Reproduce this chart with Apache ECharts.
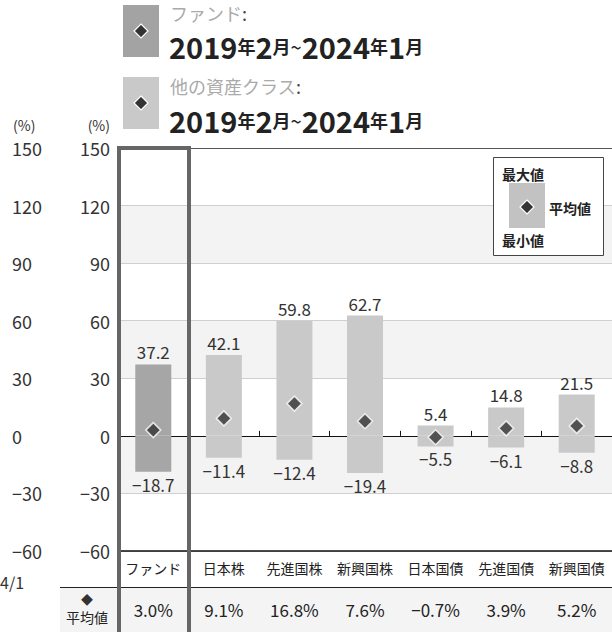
<!DOCTYPE html>
<html><head><meta charset="utf-8">
<script src="https://cdn.jsdelivr.net/npm/echarts@6/dist/echarts.min.js"></script>
<style>html,body{margin:0;padding:0;background:#fff}#c{width:612px;height:632px}</style>
</head><body><div id="c"></div>
<script>
const categories = ['ファンド','日本株','先進国株','新興国株','日本国債','先進国債','新興国債'];
const maxValues = [37.2, 42.1, 59.8, 62.7, 5.4, 14.8, 21.5];
const minValues = [-18.7, -11.4, -12.4, -19.4, -5.5, -6.1, -8.8];
const avgValues = [3.0, 9.1, 16.8, 7.6, -0.7, 3.9, 5.2];
const yMin = -60, yMax = 150, yStep = 30;
const FONT = '"Noto Sans CJK JP", "Noto Sans", sans-serif';
const fundColor = '#a6a6a6', otherColor = '#c9c9c9';

const minus = s => String(s).replace('-', '\u2212');
const avgLabels = avgValues.map(v => minus(v.toFixed(1)) + '%');

const chart = echarts.init(document.getElementById('c'), null, {renderer: 'svg'});
const barColor = (i) => i === 0 ? fundColor : otherColor;
const diamond = (cx, cy, r, z) => ({type: 'polygon', z: z || 1,
  shape: {points: [[cx, cy - r], [cx + r, cy], [cx, cy + r], [cx - r, cy]]},
  style: {fill: '#333', stroke: '#fff', lineWidth: 1.2}});

const dateRich = {
  d: {fontSize: 29, fontWeight: 'bold', fill: '#222', fontFamily: FONT, lineHeight: 26},
  s: {fontSize: 18, fontWeight: 'bold', fill: '#222', fontFamily: FONT, lineHeight: 26},
  t: {fontSize: 20, fill: '#222', fontFamily: FONT, lineHeight: 26}
};
const dateText = '{d|2019}{s|年}{d|2}{s|月}{t|~}{d|2024}{s|年}{d|1}{s|月}';
const titleRich = {
  g: {fontSize: 18, fill: '#aaa', fontFamily: FONT, lineHeight: 20},
  c: {fontSize: 18, fill: '#444', fontFamily: FONT, lineHeight: 20}
};

chart.setOption({
  animation: false,
  textStyle: {fontFamily: FONT},
  grid: {left: 118, right: 0, top: 148, bottom: 81},
  xAxis: [
    {type: 'category', data: categories, position: 'bottom',
     axisLine: {onZero: false, lineStyle: {color: '#111', width: 1.5}},
     axisTick: {show: false},
     axisLabel: {interval: 0, hideOverlap: false, fontSize: 14, color: '#222', margin: 10, fontFamily: FONT}},
    {type: 'category', data: categories, position: 'bottom',
     axisLine: {onZero: true, lineStyle: {color: '#111', width: 1}},
     axisTick: {show: true, inside: true, length: 5, lineStyle: {color: '#111'}},
     axisLabel: {show: false}},
    {type: 'category', data: categories, position: 'top',
     axisLine: {onZero: false, lineStyle: {color: '#555', width: 1}},
     axisTick: {show: false}, axisLabel: {show: false}},
    {type: 'category', data: avgLabels, position: 'bottom',
     axisLine: {show: false, onZero: false}, axisTick: {show: false},
     axisLabel: {interval: 0, hideOverlap: false, fontSize: 17, color: '#222', margin: 50, fontFamily: FONT}}
  ],
  yAxis: [
    {type: 'value', min: yMin, max: yMax, interval: yStep, position: 'left',
     axisLine: {show: false}, axisTick: {show: false},
     axisLabel: {fontSize: 18, color: '#333', margin: 8, formatter: v => minus(v)},
     splitLine: {show: true, lineStyle: {color: '#cfcfcf', width: 1}},
     splitArea: {show: true, areaStyle: {color: ['#ffffff', '#f3f3f3']}}},
    {type: 'value', min: yMin, max: yMax, interval: yStep, position: 'left',
     axisLine: {show: false}, axisTick: {show: false},
     axisLabel: {fontSize: 18, color: '#333', margin: 106, align: 'left', formatter: v => minus(v)},
     splitLine: {show: false}}
  ],
  series: [
    {type: 'bar', stack: 'r', barWidth: 36,
     data: maxValues.map((v, i) => ({value: v, itemStyle: {color: barColor(i)}})),
     label: {show: true, position: 'top', distance: 4, fontSize: 17, color: '#333', fontFamily: FONT}},
    {type: 'bar', stack: 'r', barWidth: 36,
     data: minValues.map((v, i) => ({value: v, itemStyle: {color: barColor(i)}})),
     label: {show: true, position: 'bottom', distance: 4, fontSize: 17, color: '#333', fontFamily: FONT,
             formatter: p => minus(p.value)}},
    {type: 'scatter', symbol: 'diamond', symbolSize: 15, data: avgValues, z: 5,
     itemStyle: {color: '#333', borderColor: '#fff', borderWidth: 1.5}}
  ],
  graphic: [
    {type: 'rect', z: -10, shape: {x: 60, y: 588, width: 552, height: 44}, style: {fill: '#f4f4f4'}},
    {type: 'line', z: 50, shape: {x1: 60, y1: 587.5, x2: 612, y2: 587.5}, style: {stroke: '#222', lineWidth: 1.2}},
    {type: 'rect', z: 100, shape: {x: 119, y: 148, width: 70, height: 490}, style: {fill: 'none', stroke: '#666', lineWidth: 4}},
    {type: 'text', z: 50, x: 13, y: 125, style: {text: '(%)', fontSize: 14, fill: '#333', fontFamily: FONT, align: 'left', verticalAlign: 'middle'}},
    {type: 'text', z: 50, x: 110, y: 125, style: {text: '(%)', fontSize: 14, fill: '#333', fontFamily: FONT, align: 'right', verticalAlign: 'middle'}},
    {type: 'text', z: 50, x: 0, y: 582, style: {text: '4/1', fontSize: 16, fill: '#333', fontFamily: FONT, align: 'left', verticalAlign: 'middle'}},
    {type: 'text', z: 50, x: 87, y: 599, style: {text: '◆', fontSize: 12, fill: '#333', fontFamily: FONT, align: 'center', verticalAlign: 'middle'}},
    {type: 'text', z: 50, x: 87, y: 617, style: {text: '平均値', fontSize: 14, fill: '#222', fontFamily: FONT, align: 'center', verticalAlign: 'middle'}},
    {type: 'rect', shape: {x: 123, y: 5, width: 36, height: 52}, style: {fill: '#a3a3a3'}},
    diamond(141, 31, 7, 2),
    {type: 'text', x: 170, y: 13, style: {text: '{g|ファンド}{c|:}', rich: titleRich, fontFamily: FONT, align: 'left', verticalAlign: 'middle'}},
    {type: 'text', x: 169, y: 46, style: {text: dateText, rich: dateRich, fontFamily: FONT, align: 'left', verticalAlign: 'middle'}},
    {type: 'rect', shape: {x: 123, y: 77, width: 36, height: 52}, style: {fill: '#c9c9c9'}},
    diamond(141, 103, 7, 2),
    {type: 'text', x: 170, y: 86, style: {text: '{g|他の資産クラス}{c|:}', rich: titleRich, fontFamily: FONT, align: 'left', verticalAlign: 'middle'}},
    {type: 'text', x: 169, y: 120, style: {text: dateText, rich: dateRich, fontFamily: FONT, align: 'left', verticalAlign: 'middle'}},
    {type: 'rect', z: 60, shape: {x: 493.5, y: 157.5, width: 110, height: 98}, style: {fill: '#fff', stroke: '#444', lineWidth: 1}},
    {type: 'rect', z: 61, shape: {x: 509, y: 183, width: 36, height: 45}, style: {fill: '#c2c2c2'}},
    diamond(527, 207, 7, 62),
    {type: 'text', z: 62, x: 502, y: 174, style: {text: '最大値', fontSize: 14, fontWeight: 'bold', fill: '#222', fontFamily: FONT, align: 'left', verticalAlign: 'middle'}},
    {type: 'text', z: 62, x: 549, y: 208, style: {text: '平均値', fontSize: 14, fontWeight: 'bold', fill: '#222', fontFamily: FONT, align: 'left', verticalAlign: 'middle'}},
    {type: 'text', z: 62, x: 502, y: 240, style: {text: '最小値', fontSize: 14, fontWeight: 'bold', fill: '#222', fontFamily: FONT, align: 'left', verticalAlign: 'middle'}}
  ]
});
</script></body></html>
